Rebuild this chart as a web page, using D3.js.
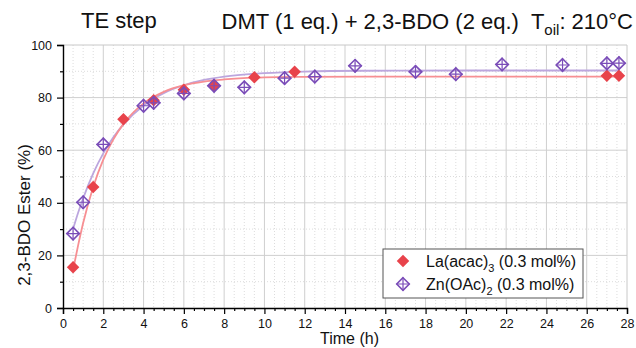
<!DOCTYPE html>
<html>
<head>
<meta charset="utf-8">
<script src="https://cdn.jsdelivr.net/npm/d3@7"></script>
<style>
  body { margin: 0; background: #fff; }
  svg { font-family: "Liberation Sans", Arial, sans-serif; }
</style>
</head>
<body>
<div id="chart"></div>
<script>
// measured points
const laTime = [0.5, 1.5, 3, 4.5, 6, 7.5, 9.5, 11.5, 27, 27.6];
const laEster = [15.5, 46, 71.8, 79, 83, 84.5, 87.7, 89.8, 88.3, 88.3];
const znTime = [0.5, 1, 2, 4, 4.5, 6, 7.5, 9, 11, 12.5, 14.5, 17.5, 19.5, 21.8, 24.8, 27, 27.6];
const znEster = [28.3, 40.2, 62.2, 76.9, 78, 81.6, 84.5, 83.9, 87.4, 88, 92.1, 89.8, 88.9, 92.6, 92.4, 93, 93.1];

// fitted curves
const fitTime = [0.5, 0.75, 1, 1.5, 2, 2.5, 3, 4, 5, 6, 7, 8, 10, 12, 15, 20, 27.6];
const laFit = [14.5, 23.8, 32.3, 46, 56.4, 64.1, 70, 77.8, 82.2, 84.7, 86.1, 86.9, 87.7, 87.9, 88, 88, 88];
const znFit = [30, 36.2, 41.7, 51.2, 58.8, 64.9, 69.8, 77, 81.7, 84.7, 86.7, 88, 89.3, 89.9, 90.2, 90.3, 90.3];

const xTicks = d3.range(0, 29, 2);
const yTicks = [0, 20, 40, 60, 80, 100];

const width = 636, height = 348;
const margin = {top: 45, right: 9, bottom: 40, left: 63};
const w = width - margin.left - margin.right;
const h = height - margin.top - margin.bottom;

const redDot = "#e8434b", redLine = "#f78f93";
const purple = "#7a4cb8", purpleLine = "#bca6de";

const svg = d3.select("#chart").append("svg")
  .attr("width", width)
  .attr("height", height);

const g = svg.append("g")
  .attr("transform", "translate(" + margin.left + "," + margin.top + ")");

const x = d3.scaleLinear().domain([0, 28]).range([0, w]);
const y = d3.scaleLinear().domain([0, 100]).range([h, 0]);

const xMinor = d3.range(0.5, 28, 0.5).filter(d => d % 2 !== 0);
const yMinor = d3.range(10, 100, 20);

// minor grid (dotted)
g.append("g").selectAll("line")
  .data(xMinor)
  .enter().append("line")
  .attr("x1", d => x(d)).attr("x2", d => x(d))
  .attr("y1", 0).attr("y2", h)
  .attr("stroke", "#dcdcdc").attr("stroke-dasharray", "1,2");
g.append("g").selectAll("line")
  .data(yMinor)
  .enter().append("line")
  .attr("x1", 0).attr("x2", w)
  .attr("y1", d => y(d)).attr("y2", d => y(d))
  .attr("stroke", "#dcdcdc").attr("stroke-dasharray", "1,2");

// major grid
g.append("g").selectAll("line")
  .data(xTicks.slice(1, -1))
  .enter().append("line")
  .attr("x1", d => x(d)).attr("x2", d => x(d))
  .attr("y1", 0).attr("y2", h)
  .attr("stroke", "#cfcfcf");
g.append("g").selectAll("line")
  .data(yTicks.slice(1, -1))
  .enter().append("line")
  .attr("x1", 0).attr("x2", w)
  .attr("y1", d => y(d)).attr("y2", d => y(d))
  .attr("stroke", "#cfcfcf");

// frame top/right
g.append("line").attr("x1", 0).attr("x2", w).attr("y1", 0).attr("y2", 0).attr("stroke", "#c8c8c8");
g.append("line").attr("x1", w).attr("x2", w).attr("y1", 0).attr("y2", h).attr("stroke", "#c8c8c8");

// fit lines
const line = d3.line()
  .x((d, i) => x(fitTime[i]))
  .y(d => y(d))
  .curve(d3.curveMonotoneX);

g.append("path").datum(znFit)
  .attr("d", line).attr("fill", "none")
  .attr("stroke", purpleLine).attr("stroke-width", 1.8);
g.append("path").datum(laFit)
  .attr("d", line).attr("fill", "none")
  .attr("stroke", redLine).attr("stroke-width", 1.8);

// axes
g.append("g")
  .attr("transform", "translate(0," + h + ")")
  .call(d3.axisBottom(x).tickValues(xTicks).tickSize(6).tickPadding(5).tickFormat(d3.format("d")));
g.append("g")
  .attr("transform", "translate(0," + h + ")")
  .call(d3.axisBottom(x).tickValues(xMinor).tickSize(3).tickFormat(""))
  .select(".domain").remove();
g.append("g")
  .call(d3.axisLeft(y).tickValues(yTicks).tickSize(6).tickPadding(5));
g.append("g")
  .call(d3.axisLeft(y).tickValues(yMinor).tickSize(3).tickFormat(""))
  .select(".domain").remove();

g.selectAll(".domain").attr("stroke", "#000").attr("stroke-width", 1.4);
g.selectAll(".tick line").attr("stroke", "#000").attr("stroke-width", 1.2);
g.selectAll(".tick text").style("font-size", "12.5px").attr("fill", "#111");

// markers
const diamond = d3.symbol().type(d3.symbolDiamond2).size(100);
const cross = "M-6.8,0H6.8M0,-6.8V6.8";

g.append("g").selectAll("path")
  .data(laEster)
  .enter().append("path")
  .attr("d", diamond)
  .attr("transform", (d, i) => "translate(" + x(laTime[i]) + "," + y(d) + ")")
  .attr("fill", redDot);

const zn = g.append("g").selectAll("g")
  .data(znEster)
  .enter().append("g")
  .attr("transform", (d, i) => "translate(" + x(znTime[i]) + "," + y(d) + ")");
zn.append("path").attr("d", diamond)
  .attr("fill", "none").attr("stroke", purple).attr("stroke-width", 1.6);
zn.append("path").attr("d", cross)
  .attr("stroke", purple).attr("stroke-width", 1.2);

// legend
const leg = svg.append("g").attr("transform", "translate(383,249)");
leg.append("rect").attr("width", 200).attr("height", 49)
  .attr("fill", "#fff").attr("stroke", "#555").attr("stroke-width", 1);
leg.append("path").attr("d", diamond)
  .attr("transform", "translate(20,12)").attr("fill", redDot);
const lz = leg.append("g").attr("transform", "translate(20,35)");
lz.append("path").attr("d", diamond)
  .attr("fill", "none").attr("stroke", purple).attr("stroke-width", 1.6);
lz.append("path").attr("d", cross)
  .attr("stroke", purple).attr("stroke-width", 1.2);

const t1 = leg.append("text").attr("x", 43).attr("y", 18).style("font-size", "16px").attr("fill", "#111");
t1.append("tspan").text("La(acac)");
t1.append("tspan").text("3").attr("dy", 5).style("font-size", "11px");
t1.append("tspan").text(" (0.3 mol%)").attr("dy", -5);
const t2 = leg.append("text").attr("x", 43).attr("y", 41).style("font-size", "16px").attr("fill", "#111");
t2.append("tspan").text("Zn(OAc)");
t2.append("tspan").text("2").attr("dy", 5).style("font-size", "11px");
t2.append("tspan").text(" (0.3 mol%)").attr("dy", -5);

// titles
svg.append("text").attr("x", 81).attr("y", 28)
  .style("font-size", "22px").attr("fill", "#111").text("TE step");
const tt = svg.append("text").attr("x", 633).attr("y", 29).attr("text-anchor", "end")
  .style("font-size", "22px").attr("fill", "#111");
tt.append("tspan").text("DMT (1 eq.) + 2,3-BDO (2 eq.)");
tt.append("tspan").attr("dx", 12).text("T");
tt.append("tspan").text("oil").attr("dy", 6).style("font-size", "15px");
tt.append("tspan").text(": 210°C").attr("dy", -6);

svg.append("text").attr("x", 379).attr("y", 344).attr("text-anchor", "end")
  .style("font-size", "16px").attr("fill", "#111").text("Time (h)");
svg.append("text")
  .attr("transform", "translate(30,215) rotate(-90)")
  .attr("text-anchor", "middle")
  .style("font-size", "17px").attr("fill", "#111").text("2,3-BDO Ester (%)");
</script>
</body>
</html>
